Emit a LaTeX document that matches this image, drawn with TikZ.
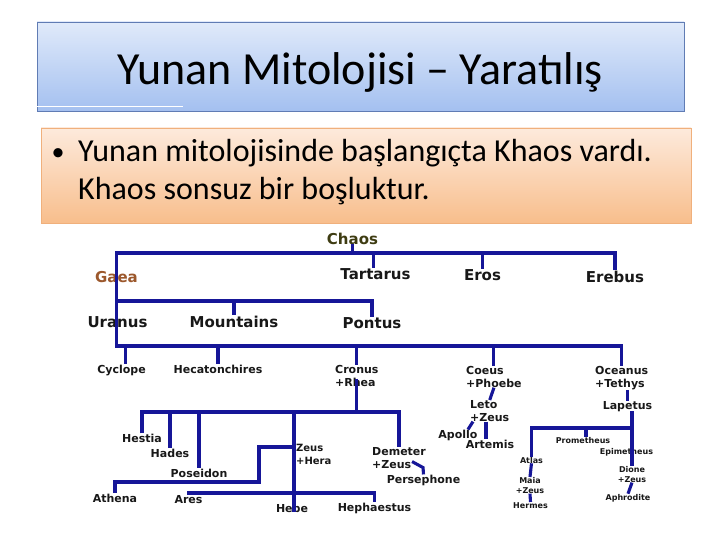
\documentclass[tikz,border=0pt]{standalone}
\usepackage{fontspec}
\setmainfont{Carlito}
\newfontfamily\godfont{DejaVu Sans}
\definecolor{titletop}{RGB}{224,234,250}
\definecolor{titlebot}{RGB}{164,192,240}
\definecolor{titleedge}{RGB}{96,124,180}
\definecolor{bodytop}{RGB}{253,234,220}
\definecolor{bodybot}{RGB}{248,190,140}
\definecolor{bodyedge}{RGB}{240,176,124}
\definecolor{treeblue}{RGB}{22,22,152}
\definecolor{godgray}{RGB}{24,24,24}
\definecolor{chaoscol}{RGB}{62,60,18}
\definecolor{gaeacol}{RGB}{156,88,44}

\begin{document}
\begin{tikzpicture}[x=1pt, y=-1pt,
        titlebox/.style={draw=titleedge, top color=titletop, bottom color=titlebot, minimum width=647pt, minimum height=89pt, inner sep=0pt},
        bodybox/.style={draw=bodyedge, top color=bodytop, bottom color=bodybot, minimum width=650pt, minimum height=95pt},
        titletext/.style={font=\fontsize{46}{55}\selectfont, inner sep=0pt, anchor=base},
        bodytext/.style={font=\fontsize{32}{38.4}\selectfont, align=left, inner sep=0pt},
        god/.style={font=\godfont\bfseries\fontsize{11}{13}\selectfont, text=godgray, inner sep=0pt, anchor=base},
        bigod/.style={god, font=\godfont\bfseries\fontsize{15}{17}\selectfont},
        smallgod/.style={god, font=\godfont\bfseries\fontsize{8}{10}\selectfont},
        couple/.style={god, align=left, anchor=north west},
        smallcouple/.style={smallgod, align=center, anchor=north},
        tree/.style={draw=treeblue, line width=3.1pt}
    ]
        \fill[white] (0,0) rectangle (720,540);
        \useasboundingbox (0,0) rectangle (720,540);

        \node[titlebox] (titlebox) at (360.5,66.5) {};
        \node[titletext] (title) at (360,85) {Yunan Mitolojisi -- Yaratılış};
        \draw[white, line width=1pt] ([yshift=5pt]titlebox.south west) -- ++(146,0);
        \node[bodybox] (bodybox) at (366,175.5) {};
        \node[bodytext, anchor=base, font=\fontsize{26}{30}\selectfont] (bullet) at (58,161) {•};
        \node[bodytext, anchor=base west] (bodytext) at (78,200) {Yunan mitolojisinde başlangıçta Khaos vardı.\\Khaos sonsuz bir boşluktur.};

        \node[bigod, text=chaoscol] (chaos) at (352.5,244) {Chaos};
        \node[bigod] (tartarus) at (375.5,279) {Tartarus};
        \node[bigod] (eros) at (482.5,280) {Eros};
        \node[bigod] (erebus) at (615,282) {Erebus};
        \node[bigod, text=gaeacol] (gaea) at (116.5,282) {Gaea};
        \node[bigod] (uranus) at (117.5,327) {Uranus};
        \node[bigod] (mountains) at (234,327) {Mountains};
        \node[bigod] (pontus) at (372,328) {Pontus};

        \node[god] (cyclope) at (121.5,373) {Cyclope};
        \node[god] (hecatonchires) at (218,373) {Hecatonchires};
        \node[couple] (cronus) at (335,365) {Cronus\\+Rhea};
        \node[couple] (coeus) at (466,366) {Coeus\\+Phoebe};
        \node[couple] (oceanus) at (595,366) {Oceanus\\+Tethys};
        \node[couple] (leto) at (470,400) {Leto\\+Zeus};
        \node[god] (apollo) at (458,438) {Apollo};
        \node[god] (artemis) at (490,448) {Artemis};
        \node[god] (lapetus) at (627.5,409) {Lapetus};

        \node[god] (hestia) at (142,442) {Hestia};
        \node[god] (hades) at (170,457) {Hades};
        \node[god] (poseidon) at (199,477) {Poseidon};
        \node[couple, font=\godfont\bfseries\fontsize{10}{13}\selectfont] (zeus) at (296,444) {Zeus\\+Hera};
        \node[couple] (demeter) at (372,447) {Demeter\\+Zeus};
        \node[god] (persephone) at (423.5,483) {Persephone};
        \node[god] (athena) at (115,502) {Athena};
        \node[god] (ares) at (188.5,503) {Ares};
        \node[god] (hebe) at (292,512) {Hebe};
        \node[god] (hephaestus) at (374.5,511) {Hephaestus};

        \node[smallgod] (prometheus) at (583,443) {Prometheus};
        \node[smallgod] (epimetheus) at (626.5,454) {Epimetheus};
        \node[smallgod] (atlas) at (531.5,463) {Atlas};
        \node[smallcouple] (maia) at (530,477) {Maia\\+Zeus};
        \node[smallgod] (hermes) at (530.5,508) {Hermes};
        \node[smallcouple] (dione) at (632,466) {Dione\\+Zeus};
        \node[smallgod] (aphrodite) at (628,500) {Aphrodite};

        \coordinate (b1) at (0,253);
        \coordinate (b2) at (0,301);
        \coordinate (b3) at (0,346);
        \coordinate (b4) at (0,412);
        \coordinate (b5) at (0,493);
        \coordinate (b6) at (0,428);
        \coordinate (b7) at (0,482);
        \coordinate (zh) at (259,447);

        \draw[tree] (chaos.south) -- (chaos |- b1);
        \draw[tree] (erebus.north) -- (erebus |- b1) -- (gaea |- b1) -- (gaea |- b3) -- (oceanus |- b3) -- (oceanus.north);
        \draw[tree] ([xshift=-2pt]tartarus |- b1) -- ([xshift=-2pt]tartarus.north);
        \draw[tree] (eros |- b1) -- (eros.north);
        \draw[tree] (gaea |- b2) -- (pontus |- b2) -- (pontus.north);
        \draw[tree] (mountains |- b2) -- (mountains.north);

        \draw[tree] ([xshift=4pt]cyclope |- b3) -- ([xshift=4pt]cyclope.north);
        \draw[tree] (hecatonchires |- b3) -- (hecatonchires.north);
        \draw[tree] (cronus |- b3) -- (cronus.north);
        \draw[tree] (coeus |- b3) -- (coeus.north);

        \draw[tree] ([yshift=8pt]cronus.south) -- (cronus |- b4);
        \draw[tree] (hestia.north) -- (hestia |- b4) -- (demeter |- b4) -- (demeter.north);
        \draw[tree] (hades |- b4) -- (hades.north);
        \draw[tree] (poseidon |- b4) -- (poseidon.north);
        \draw[tree] ([xshift=2pt]hebe |- b4) -- ([xshift=2pt]hebe.south);
        \draw[tree] ([xshift=2pt]hebe |- zh) -- (zh) -- (zh |- b7) -- (athena |- b7) -- (athena.north);
        \draw[tree] (ares.north) -- (ares |- b5) -- (hephaestus |- b5) -- (hephaestus.north);
        \draw[tree] ([xshift=-14pt,yshift=7pt]demeter.south east) -- ++(11,6) -- (persephone.north);

        \draw[tree] (coeus.south) -- (leto.north);
        \draw[tree] ([xshift=3pt]leto.south west) -- ([xshift=10pt]apollo.north);
        \draw[tree] ([xshift=-4pt]artemis.north |- leto.south) -- ([xshift=-4pt]artemis.north);

        \draw[tree] (lapetus.north |- oceanus.south) -- (lapetus.north);
        \draw[tree] (dione.north |- lapetus.south) -- (dione.north);
        \draw[tree] (atlas.north) -- (atlas |- b6) -- (dione |- b6);
        \draw[tree] ([xshift=3pt]prometheus |- b6) -- ([xshift=3pt]prometheus.north);
        \draw[tree] (atlas.south) -- (maia.north);
        \draw[tree] (maia.south) -- (hermes.north);
        \draw[tree] (dione.south) -- (aphrodite.north);

    \end{tikzpicture}
\end{document}
